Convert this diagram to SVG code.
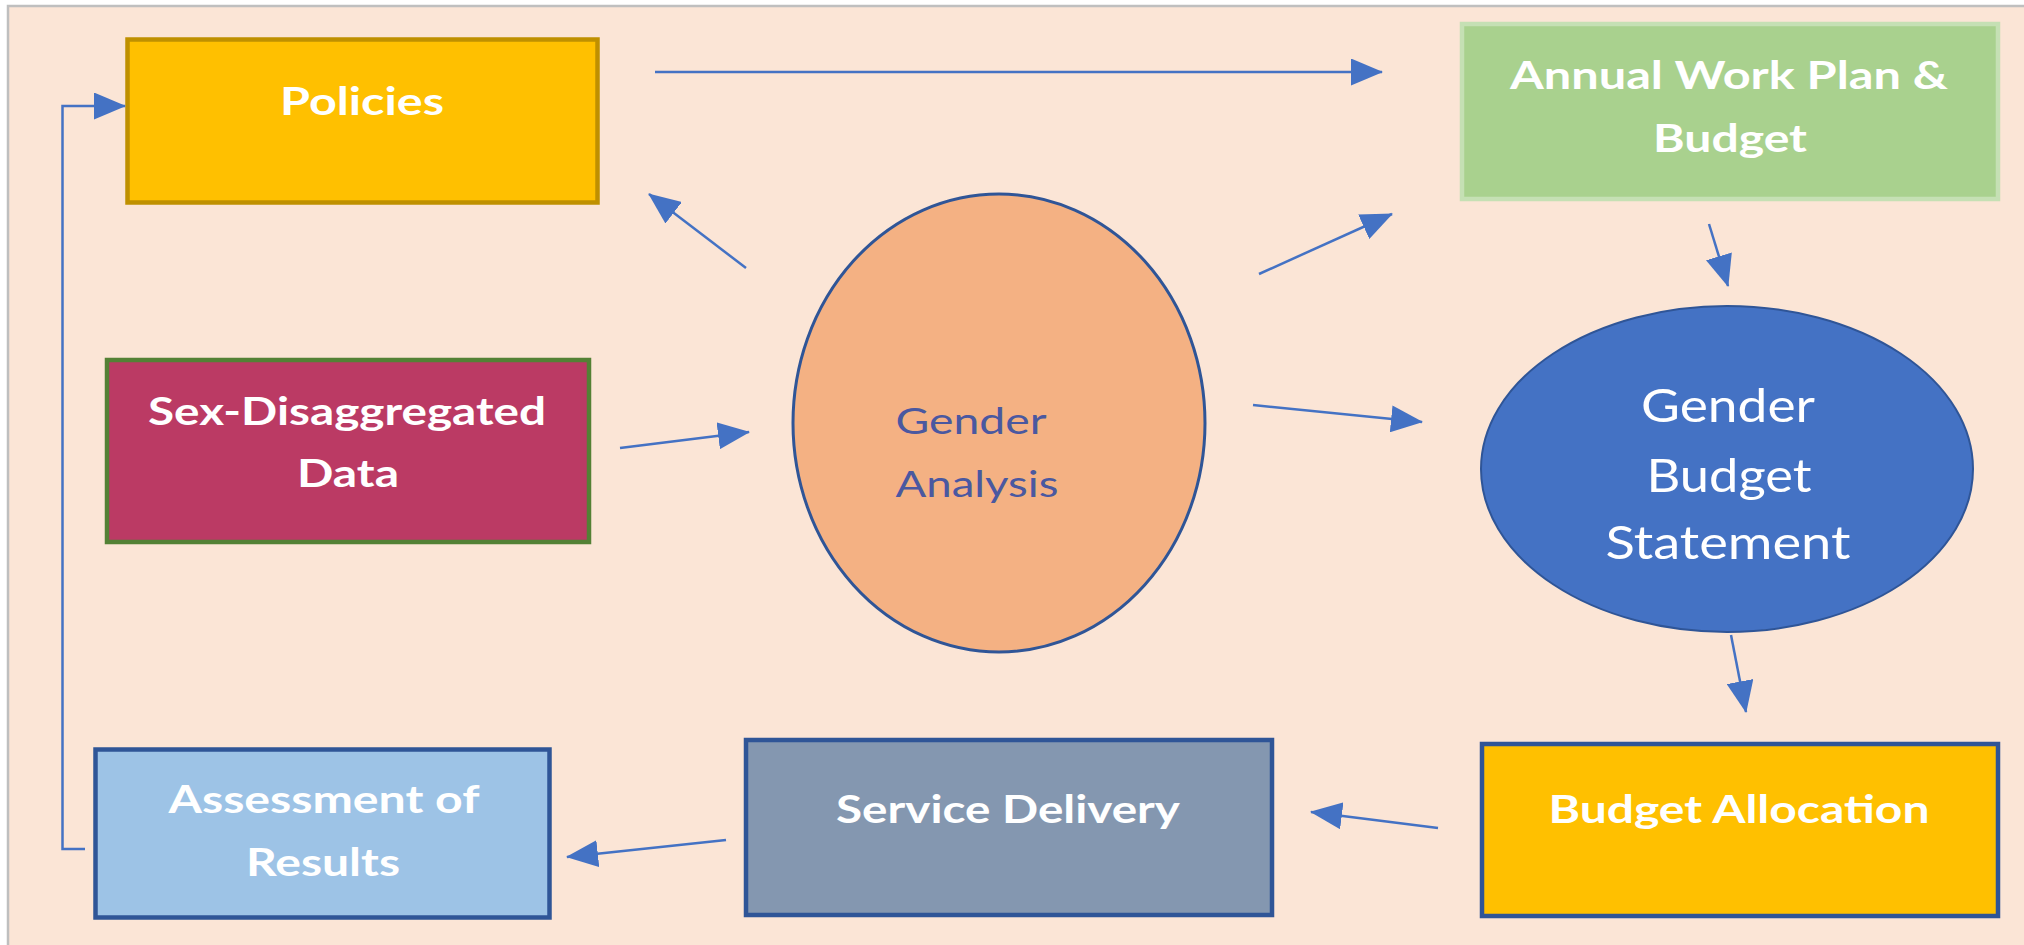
<svg xmlns="http://www.w3.org/2000/svg" width="2024" height="945" viewBox="0 0 2024 945">
<style>
.lbl{font-family:Lato,"Liberation Sans",sans-serif;font-weight:bold;fill:#FFFFFF;text-anchor:middle;font-size:39px}
.ga{font-family:Lato,"Liberation Sans",sans-serif;fill:#4A58A0;text-anchor:middle;font-size:37px}
.gbs{font-family:Lato,"Liberation Sans",sans-serif;fill:#FFFFFF;text-anchor:middle;font-size:47px}
.con{stroke:#4472C4;stroke-width:2.5;fill:none}
.box{stroke-width:4.5}
</style>
<defs>
<marker id="ah" viewBox="0 0 32 27" markerWidth="32" markerHeight="27" refX="31" refY="13.5" orient="auto" markerUnits="userSpaceOnUse">
<path d="M0,0 L32,13.5 L0,27 z" fill="#4472C4"/>
</marker>
</defs>
<rect x="0" y="0" width="2024" height="945" fill="#FFFFFF"/>
<rect x="8" y="6" width="2016" height="939" fill="#FBE5D6"/>
<path d="M8,945 L8,6 L2024,6" fill="none" stroke="#BFBFBF" stroke-width="2.5"/>

<g id="policies">
<rect class="box" x="127.5" y="39.5" width="470" height="163" fill="#FFC000" stroke="#BF9000"/>
<text class="lbl" x="362" y="115" textLength="164" lengthAdjust="spacingAndGlyphs">Policies</text>
</g>
<g id="annual-work-plan">
<rect class="box" x="1462" y="24" width="536" height="175" fill="#A9D18E" stroke="#C5E0B4"/>
<text class="lbl" x="1729" y="89" textLength="438" lengthAdjust="spacingAndGlyphs">Annual Work Plan &amp;</text>
<text class="lbl" x="1730" y="152" textLength="154" lengthAdjust="spacingAndGlyphs">Budget</text>
</g>
<g id="sex-disaggregated-data">
<rect class="box" x="107" y="360" width="482" height="182" fill="#BB3A64" stroke="#538135"/>
<text class="lbl" x="347" y="425" textLength="398" lengthAdjust="spacingAndGlyphs">Sex-Disaggregated</text>
<text class="lbl" x="348" y="487" textLength="102" lengthAdjust="spacingAndGlyphs">Data</text>
</g>
<g id="gender-analysis">
<ellipse cx="999" cy="423" rx="206" ry="229" fill="#F4B183" stroke="#2F5597" stroke-width="3"/>
<text class="ga" x="971" y="434" textLength="151" lengthAdjust="spacingAndGlyphs">Gender</text>
<text class="ga" x="977" y="497" textLength="163" lengthAdjust="spacingAndGlyphs">Analysis</text>
</g>
<g id="gender-budget-statement">
<ellipse cx="1727" cy="469" rx="246" ry="163" fill="#4472C4" stroke="#2F5597" stroke-width="2"/>
<text class="gbs" x="1728" y="422" textLength="174" lengthAdjust="spacingAndGlyphs">Gender</text>
<text class="gbs" x="1729" y="492" textLength="165" lengthAdjust="spacingAndGlyphs">Budget</text>
<text class="gbs" x="1728" y="559" textLength="245" lengthAdjust="spacingAndGlyphs">Statement</text>
</g>
<g id="assessment-of-results">
<rect class="box" x="95.5" y="749.5" width="454" height="168" fill="#9DC3E6" stroke="#2F5597"/>
<text class="lbl" x="324" y="813" textLength="311" lengthAdjust="spacingAndGlyphs">Assessment of</text>
<text class="lbl" x="323" y="876" textLength="154" lengthAdjust="spacingAndGlyphs">Results</text>
</g>
<g id="service-delivery">
<rect class="box" x="746" y="740" width="526" height="175" fill="#8497B0" stroke="#2F5597"/>
<text class="lbl" x="1008" y="823" textLength="344" lengthAdjust="spacingAndGlyphs">Service Delivery</text>
</g>
<g id="budget-allocation">
<rect class="box" x="1482" y="744" width="516" height="172" fill="#FFC000" stroke="#2F5597"/>
<text class="lbl" x="1739" y="823" textLength="381" lengthAdjust="spacingAndGlyphs">Budget Allocation</text>
</g>

<g id="connectors">
<polyline class="con" points="85,849 62.5,849 62.5,106 125,106" marker-end="url(#ah)"/>
<line class="con" x1="655" y1="72" x2="1382" y2="72" marker-end="url(#ah)"/>
<line class="con" x1="746" y1="268" x2="649" y2="194" marker-end="url(#ah)"/>
<line class="con" x1="1259" y1="274" x2="1392" y2="214" marker-end="url(#ah)"/>
<line class="con" x1="620" y1="448" x2="749" y2="432" marker-end="url(#ah)"/>
<line class="con" x1="1253" y1="405" x2="1422" y2="422" marker-end="url(#ah)"/>
<line class="con" x1="1709" y1="224" x2="1728" y2="286" marker-end="url(#ah)"/>
<line class="con" x1="1731" y1="635" x2="1746" y2="712" marker-end="url(#ah)"/>
<line class="con" x1="1438" y1="828" x2="1311" y2="812" marker-end="url(#ah)"/>
<line class="con" x1="726" y1="840" x2="567" y2="857" marker-end="url(#ah)"/>
</g>
</svg>
